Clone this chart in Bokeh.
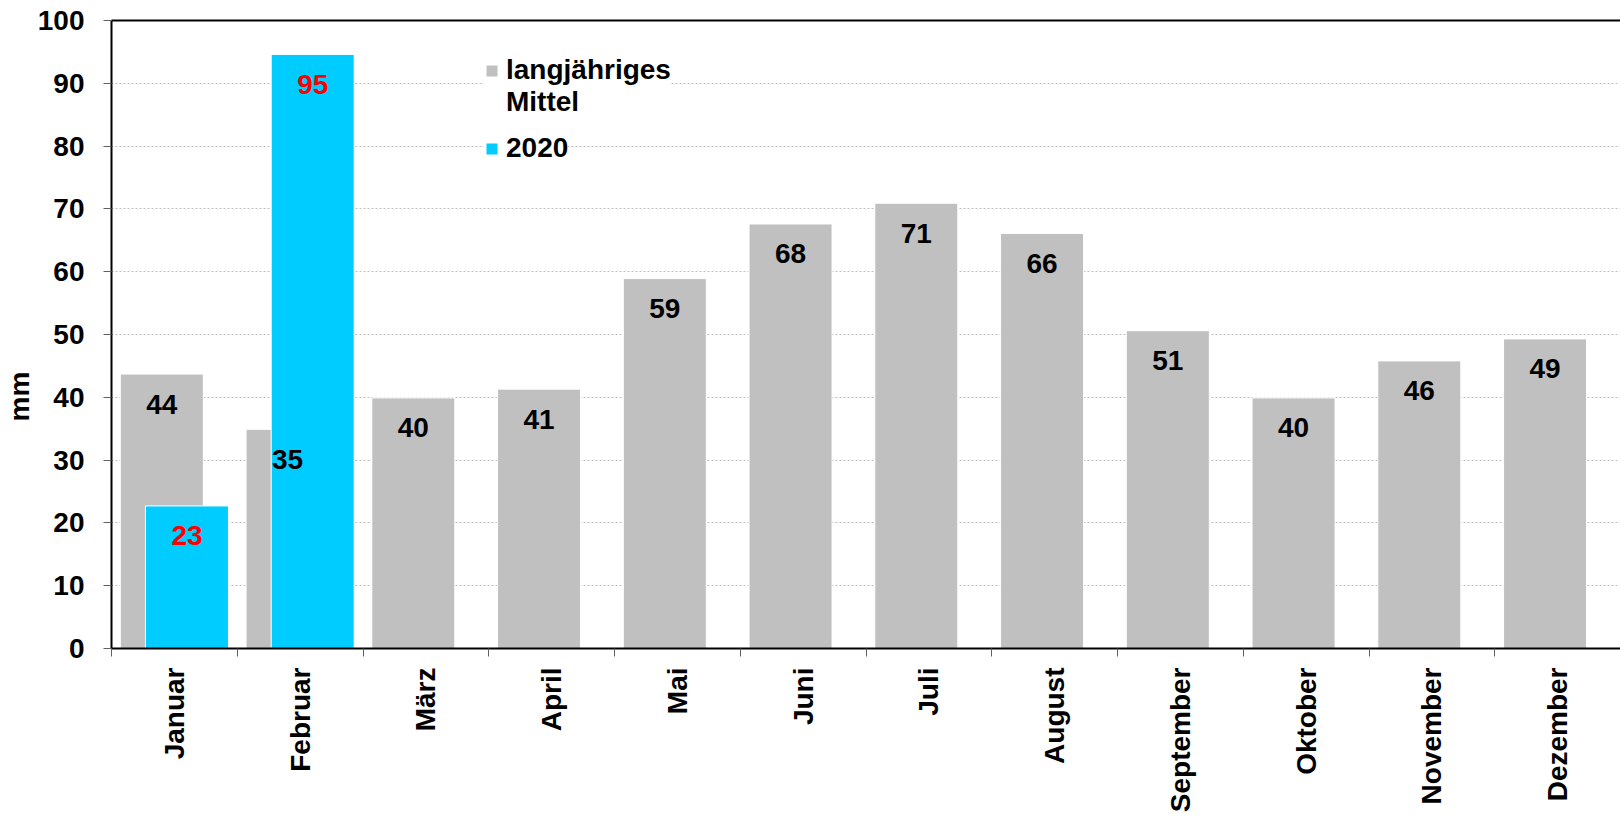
import numpy as np
from bokeh.plotting import figure
from bokeh.models import (ColumnDataSource, FixedTicker, LinearAxis, Legend, LegendItem, Title)
from bokeh.transform import dodge
from bokeh.core.properties import value
from bokeh.embed import file_html
from bokeh.resources import INLINE

months = ["Januar", "Februar", "März", "April", "Mai", "Juni", "Juli",
          "August", "September", "Oktober", "November", "Dezember"]
mittel = [43.7, 34.9, 39.9, 41.3, 58.9, 67.6, 70.9, 66.1, 50.6, 39.9, 45.8, 49.3]
months_2020 = ["Januar", "Februar"]
values_2020 = [22.7, 94.6]
y_ticks = [0, 10, 20, 30, 40, 50, 60, 70, 80, 90, 100]

FONT = "Liberation Sans"
FS = "28px"
GREY = "#c0c0c0"
CYAN = "#00ccff"

xpos = list(range(1, len(months) + 1))
src_m = ColumnDataSource(dict(x=xpos, v=mittel, lab=[f"{v:.0f}" for v in mittel]))
x2020 = [months.index(m) + 1 for m in months_2020]
src_c = ColumnDataSource(dict(x=x2020, v=values_2020, lab=[f"{v:.0f}" for v in values_2020]))

p = figure(width=1620, height=819, x_range=(0.5, len(months) + 0.5), y_range=(0, 100),
           output_backend="svg", toolbar_location=None,
           min_border_left=111, min_border_right=0, min_border_top=20, min_border_bottom=171)
p.outline_line_color = None
p.background_fill_color = "white"

grey = p.vbar(x=dodge("x", -0.1), top="v", width=0.66, bottom=0, source=src_m,
              fill_color=GREY, line_color="white", line_width=1)
cyan = p.vbar(x=dodge("x", 0.1), top="v", width=0.66, bottom=0, source=src_c,
              fill_color=CYAN, line_color="white", line_width=1)

p.text(x=dodge("x", -0.1), y="v", text="lab", source=src_m, y_offset=30,
       text_align="center", text_baseline="middle", text_color="black",
       text_font=value(FONT), text_font_size=FS, text_font_style="bold")
p.text(x=dodge("x", 0.1), y="v", text="lab", source=src_c, y_offset=30,
       text_align="center", text_baseline="middle", text_color="#ff0000",
       text_font=value(FONT), text_font_size=FS, text_font_style="bold")

# x axis
xa = p.xaxis[0]
xa.ticker = FixedTicker(ticks=xpos, minor_ticks=[i + 0.5 for i in range(len(months) + 1)])
xa.major_label_overrides = {i: m for i, m in zip(xpos, months)}
xa.major_label_orientation = np.pi / 2
xa.major_tick_line_color = None
xa.major_tick_out = 0
xa.major_tick_in = 0
xa.minor_tick_out = 8
xa.minor_tick_in = 0
xa.minor_tick_line_color = "#606060"
xa.minor_tick_line_width = 1
xa.major_label_standoff = 11
xa.axis_line_color = "black"
xa.axis_line_width = 2
xa.major_label_text_font = FONT
xa.major_label_text_font_size = FS
xa.major_label_text_font_style = "bold"
xa.major_label_text_color = "black"

# y axis
ya = p.yaxis[0]
ya.ticker = FixedTicker(ticks=y_ticks)
ya.minor_tick_line_color = None
ya.major_tick_out = 8
ya.major_tick_in = 0
ya.major_tick_line_color = "#606060"
ya.major_label_standoff = 19
ya.axis_line_color = "black"
ya.axis_line_width = 2
ya.major_label_text_font = FONT
ya.major_label_text_font_size = FS
ya.major_label_text_font_style = "bold"
ya.major_label_text_color = "black"

# y axis title "mm" (placed lower than centre, as in the original)
mm = Title(text="mm", align="left", offset=227, standoff=0, text_font=FONT,
           text_font_size=FS, text_font_style="bold", text_color="black")
p.add_layout(mm, "left")

# top border line
top = LinearAxis(ticker=FixedTicker(ticks=[]), major_label_text_font_size="0px",
                 major_tick_line_color=None, minor_tick_line_color=None,
                 axis_line_color="black", axis_line_width=2)
p.add_layout(top, "above")

p.xgrid.visible = False
p.ygrid.grid_line_color = "#bfbfbf"
p.ygrid.grid_line_dash = "2 2"
p.ygrid.grid_line_width = 1


def style_legend(lg):
    lg.label_text_font = FONT
    lg.label_text_font_size = FS
    lg.label_text_font_style = "bold"
    lg.label_text_color = "black"
    lg.glyph_width = 15
    lg.glyph_height = 15
    lg.padding = 40
    lg.margin = 0
    lg.spacing = 0
    lg.label_standoff = 7
    lg.border_line_color = None
    lg.background_fill_color = "white"
    lg.background_fill_alpha = 1


legend_a = Legend(items=[LegendItem(label="langjähriges", renderers=[grey]),
                         LegendItem(label="Mittel", renderers=[])],
                  location=(373, 530))
legend_b = Legend(items=[LegendItem(label="2020", renderers=[cyan])],
                  location=(373, 484))
style_legend(legend_a)
style_legend(legend_b)
p.add_layout(legend_b)
p.add_layout(legend_a)

open("out.html", "w").write(file_html(p, INLINE))
